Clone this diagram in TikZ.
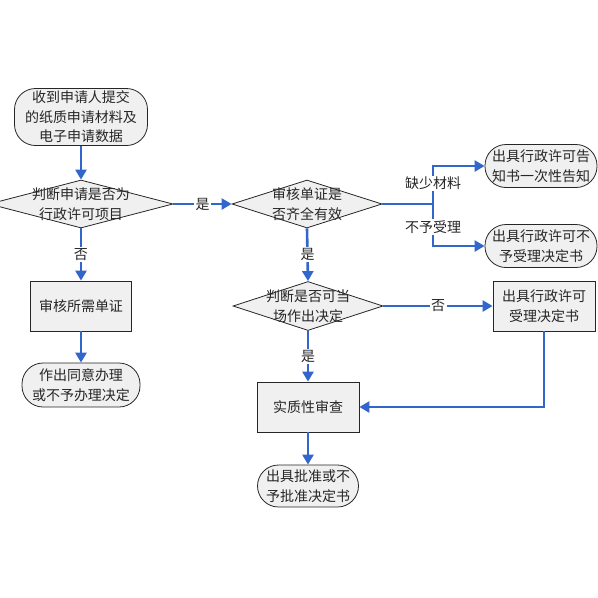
\documentclass[tikz,border=0pt]{standalone}
\usepackage{fontspec}
\newfontfamily\cjk{Noto Sans CJK SC}
\usepackage{tikz}
\usetikzlibrary{arrows.meta, positioning, calc, shapes.geometric}
\definecolor{flowblue}{RGB}{51,102,204}
\definecolor{boxfill}{RGB}{240,240,240}

\begin{document}
\begin{tikzpicture}[x=1pt, y=-1pt,
  font=\cjk\fontsize{14}{19.5}\selectfont,
  term/.style={rectangle, rounded corners=21pt, draw=black!85, line width=0.8pt, fill=boxfill,
    align=center, inner sep=0pt, text=black!85},
  proc/.style={rectangle, draw=black!85, line width=0.8pt, fill=boxfill,
    align=center, inner sep=0pt, text=black!85},
  decision/.style={diamond, draw=black!85, line width=0.8pt, fill=boxfill, inner sep=0pt},
  flow/.style={flowblue, line width=2.6pt, -{Triangle[length=10pt, width=11pt]}},
  link/.style={flowblue, line width=2.6pt},
  lbl/.style={fill=white, inner sep=1.5pt, text=black!85}]

  \useasboundingbox (0,0) rectangle (598,598);

  % --- left column ---
  \node[term, minimum width=133, minimum height=57] (start) at (81,117)
    {收到申请人提交\\的纸质申请材料及\\电子申请数据};
  \node[decision, minimum width=184, minimum height=48,
    label={[align=center, text=black!85]center:判断申请是否为\\行政许可项目}] (d1) at (81,204) {};
  \node[proc, minimum width=101, minimum height=50] (check) at (81,306) {审核所需单证};
  \node[term, minimum width=118, minimum height=44] (agree) at (81,385)
    {作出同意办理\\或不予办理决定};

  % --- middle column ---
  \node[decision, minimum width=150, minimum height=48,
    label={[align=center, text=black!85]center:审核单证是\\否齐全有效}] (d2) at (307,204) {};
  \node[decision, minimum width=150, minimum height=49,
    label={[align=center, text=black!85]center:判断是否可当\\场作出决定}] (d3) at (308,306) {};
  \node[proc, minimum width=102, minimum height=50] (review) at (308,407) {实质性审查};
  \node[term, minimum width=101, minimum height=42] (approve) at (308,486)
    {出具批准或不\\予批准决定书};

  % --- right column ---
  \node[term, minimum width=112, minimum height=43] (notice) at (541,166)
    {出具行政许可告\\知书一次性告知};
  \node[term, minimum width=112, minimum height=43] (reject) at (541,246)
    {出具行政许可不\\予受理决定书};
  \node[proc, minimum width=102, minimum height=50] (accept) at (544,306)
    {出具行政许可\\受理决定书};
  \coordinate (fork) at (433,204);

  % --- connectors ---
  \draw[flow] (start) -- (d1);
  \draw[flow] (d1.east) -- node[lbl] {是} (d2.west);
  \draw[flow] (d1.south) -- node[lbl] {否} (check.north);
  \draw[flow] (check) -- (agree);
  \draw[link] (d2.east) -- (fork);
  \draw[flow] (fork) |- node[lbl, pos=0.27] {缺少材料} (notice.west);
  \draw[flow] (fork) |- node[lbl, pos=0.27] {不予受理} (reject.west);
  \draw[flow] (d2.south) -- node[lbl] {是} (d3.north);
  \draw[flow] (d3.east) -- node[lbl] {否} (accept.west);
  \draw[flow] (d3.south) -- node[lbl] {是} (review.north);
  \draw[flow] (accept.south) |- (review.east);
  \draw[flow] (review) -- (approve);
\end{tikzpicture}
\end{document}
